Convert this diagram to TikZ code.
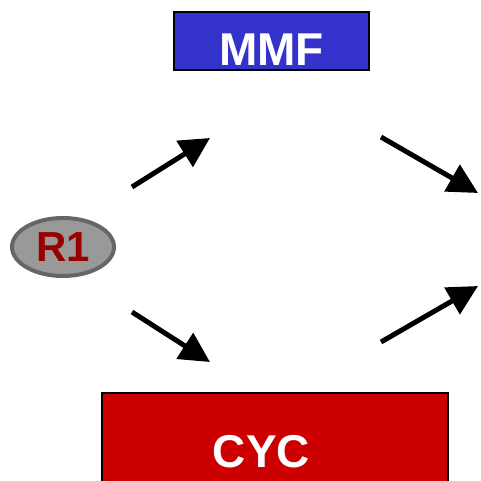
\documentclass[tikz,border=0pt]{standalone}
\usepackage{fontspec}
\setmainfont{Liberation Sans}
\usetikzlibrary{shapes.geometric,arrows.meta}
\definecolor{mmfBlue}{HTML}{3333CC}
\definecolor{cycRed}{HTML}{CC0000}
\definecolor{ovalFill}{HTML}{999999}
\definecolor{ovalEdge}{HTML}{666666}
\definecolor{rOneRed}{HTML}{990000}
\begin{document}
\begin{tikzpicture}[x=1pt,y=-1pt]
\tikzset{
    flowBox/.style={rectangle,draw=black,line width=1.5pt,inner sep=0pt,text=white,font=\fontsize{46}{46}\selectfont\bfseries,text depth=0pt},
    flowOval/.style={ellipse,draw=ovalEdge,line width=4pt,fill=ovalFill,minimum width=102pt,minimum height=58pt,inner sep=0pt,text=rOneRed,font=\fontsize{42}{42}\selectfont\bfseries},
    flowArrow/.style={line width=5pt,-{Triangle[length=30pt,width=30pt]}},
}
\useasboundingbox (0,0) rectangle (480,481);

\node[flowBox,fill=mmfBlue,minimum width=195pt,minimum height=58pt,text height=50pt] (mmf) at (271.5,41) {MMF};
\node[flowOval] (r1) at (63,247) {R1};
\node[flowBox,fill=cycRed,minimum width=346pt,minimum height=107pt,text height=41pt] (cyc) at (275,446.5) {CYC\hspace*{27pt}};

\coordinate (upA) at (132,187);
\coordinate (upB) at (210,138);
\coordinate (dnA) at (132,312);
\coordinate (dnB) at (210,362);
\coordinate (rtA) at (381,137);
\coordinate (rtB) at (478,193);
\coordinate (rbA) at (381,342);
\coordinate (rbB) at (478,286);

\draw[flowArrow] (upA) -- (upB);
\draw[flowArrow] (dnA) -- (dnB);
\draw[flowArrow] (rtA) -- (rtB);
\draw[flowArrow] (rbA) -- (rbB);
\end{tikzpicture}
\end{document}
